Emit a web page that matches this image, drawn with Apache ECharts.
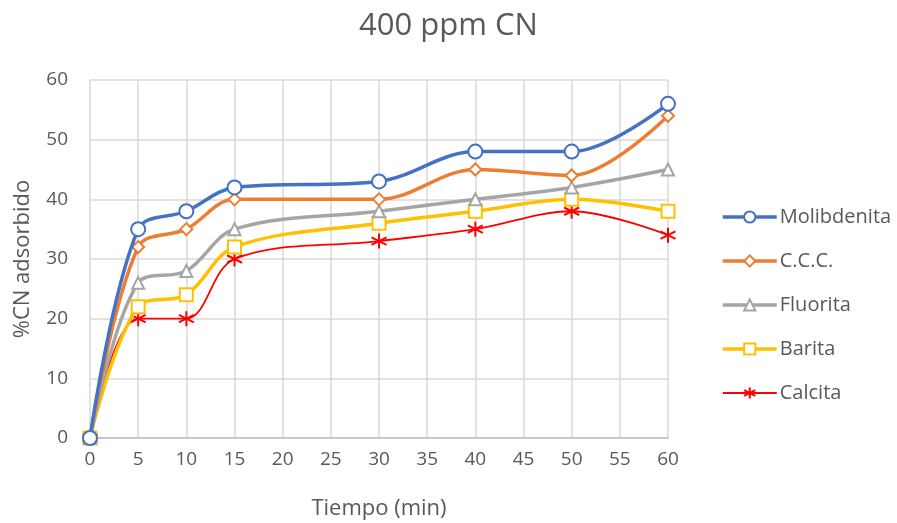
<!DOCTYPE html>
<html><head><meta charset="utf-8">
<script src="https://cdn.jsdelivr.net/npm/echarts@6/dist/echarts.min.js"></script>
<style>html,body{margin:0;padding:0;background:#fff}#c{width:897px;height:523px}</style>
</head><body><div id="c"></div>
<script>
const times = [0, 5, 10, 15, 30, 40, 50, 60];
const molibdenita = [0, 35, 38, 42, 43, 48, 48, 56];
const ccc = [0, 32, 35, 40, 40, 45, 44, 54];
const fluorita = [0, 26, 28, 35, 38, 40, 42, 45];
const barita = [0, 22, 24, 32, 36, 38, 40, 38];
const calcita = [0, 20, 20, 30, 33, 35, 38, 34];
const seriesNames = ['Molibdenita', 'C.C.C.', 'Fluorita', 'Barita', 'Calcita'];

const FONT = 'Open Sans, Noto Sans, sans-serif';
const pair = arr => times.map((t, i) => [t, arr[i]]);
const asterisk = 'path://M5,0L5,10M0.7,2.5L9.3,7.5M0.7,7.5L9.3,2.5';
const widths = [3.5, 3.5, 3.5, 3.5, 1.8];

function mk(name, data, color, symbol, size, width) {
  return {
    name, type: 'line', data: pair(data), smooth: 0.35,
    symbol, symbolSize: size,
    lineStyle: { color, width },
    itemStyle: symbol === asterisk
      ? { color: 'rgba(0,0,0,0)', borderColor: color, borderWidth: 2 }
      : { color, borderColor: color, borderWidth: 1.5 },
    z: 10 - seriesNames.indexOf(name)
  };
}

const chart = echarts.init(document.getElementById('c'));
chart.setOption({
  animation: false,
  title: { text: '400 ppm CN', left: 'center', top: 6,
    textStyle: { fontFamily: FONT, fontSize: 31, fontWeight: 'normal', color: '#595959' } },
  grid: { left: 90, right: 229, top: 80, bottom: 85, containLabel: false, outerBoundsMode: 'none' },
  legend: {
    orient: 'vertical', left: 716, top: 202, itemWidth: 54, itemHeight: 14, itemGap: 24,
    data: seriesNames.map((n, i) => ({ name: n, lineStyle: { width: widths[i] } })),
    textStyle: { fontFamily: FONT, fontSize: 20, color: '#595959', padding: [0, 0, 0, -2] }
  },
  xAxis: {
    type: 'value', min: 0, max: 60, interval: 5,
    name: 'Tiempo (min)', nameLocation: 'middle', nameGap: 60,
    nameTextStyle: { fontFamily: FONT, fontSize: 22, color: '#595959' },
    axisLine: { lineStyle: { color: '#bfbfbf', width: 1.5 } },
    axisTick: { show: false },
    axisLabel: { fontFamily: FONT, fontSize: 19, color: '#595959', margin: 12 },
    splitLine: { show: true, lineStyle: { color: '#d9d9d9', width: 1.5 } }
  },
  yAxis: {
    type: 'value', min: 0, max: 60, interval: 10,
    name: '%CN adsorbido', nameLocation: 'middle', nameGap: 56, nameRotate: 90,
    nameTextStyle: { fontFamily: FONT, fontSize: 22, color: '#595959' },
    axisLine: { show: false }, axisTick: { show: false },
    axisLabel: { fontFamily: FONT, fontSize: 19, color: '#595959', margin: 22 },
    splitLine: { lineStyle: { color: '#d9d9d9', width: 1.5 } }
  },
  series: [
    mk('Molibdenita', molibdenita, '#4472c4', 'emptyCircle', 14, widths[0]),
    mk('C.C.C.', ccc, '#ed7d31', 'emptyDiamond', 12, widths[1]),
    mk('Fluorita', fluorita, '#a5a5a5', 'emptyTriangle', 12, widths[2]),
    mk('Barita', barita, '#ffc000', 'emptyRect', 13, widths[3]),
    mk('Calcita', calcita, '#ff0000', asterisk, 15, widths[4])
  ]
});
</script></body></html>
